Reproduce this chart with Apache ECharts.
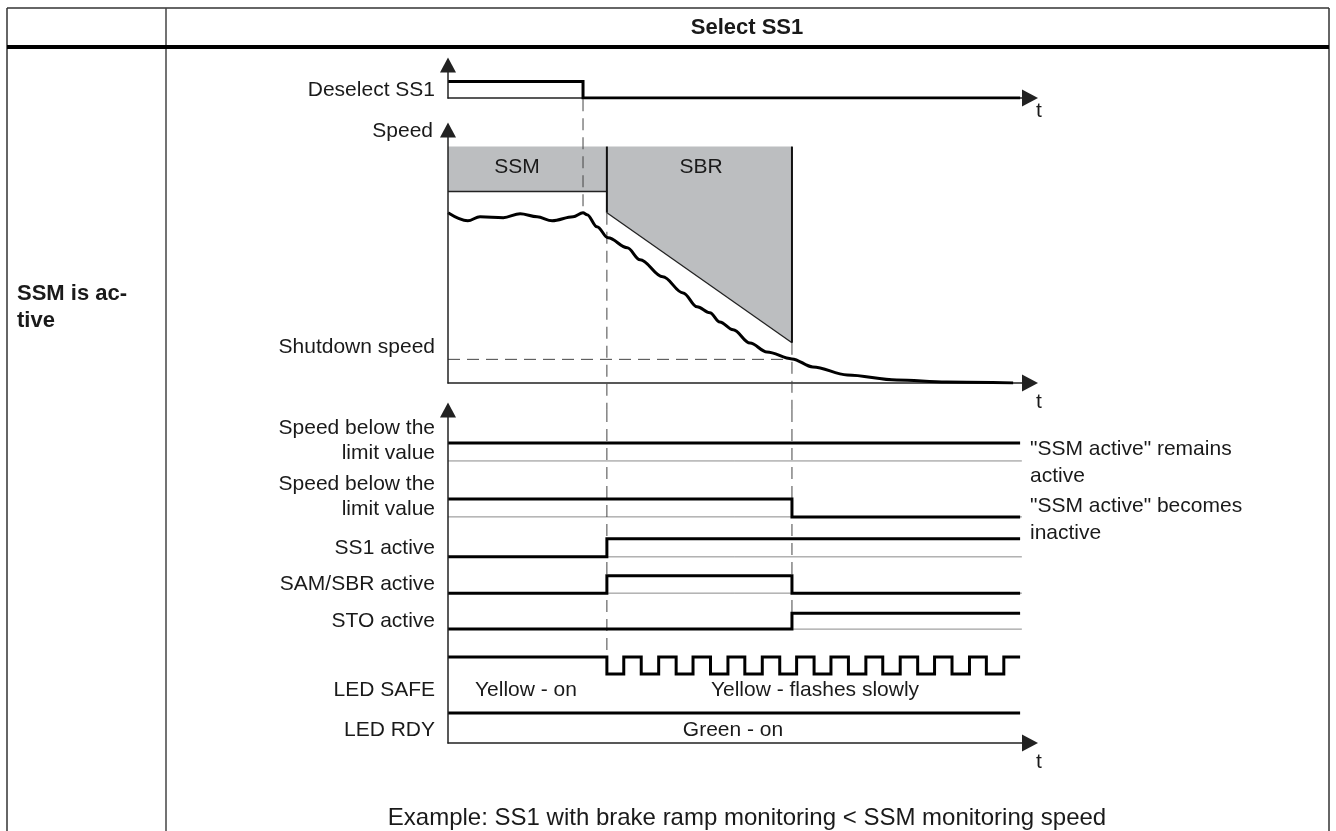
<!DOCTYPE html>
<html>
<head>
<meta charset="utf-8">
<title>Select SS1 - SSM is active</title>
<script src="https://cdn.jsdelivr.net/npm/echarts@6/dist/echarts.min.js"></script>
<style>
    html, body { margin: 0; padding: 0; background: #fff; }
    #chart { width: 1336px; height: 831px; }
</style>
</head>
<body>
<div id="chart"></div>
<script>
// time axis runs 0..100 from the vertical axis to the arrow head
var T_DESELECT = 23.2;
var T_SS1 = 27.3;
var T_STOP = 59.1;
var T_END = 98.3;

// speed curve (speed units: 0 = t axis, 100 = top of SSM/SBR area)
var speedT = [0, 3.4, 5.5, 9.5, 12.4, 15.3, 17.9, 21.5, 23.2, 23.9, 25.6, 27.5, 30.8, 33.0, 36.9, 40.4, 42.8, 45.0, 46.7, 49.0, 51.9, 54.8, 59.1, 62.7, 68.6, 77.1, 85.7, 97.1];
var speedV = [72.0, 68.6, 70.3, 69.9, 71.6, 70.3, 68.6, 70.3, 72.0, 71.2, 66.1, 61.4, 57.2, 52.1, 44.9, 38.1, 32.2, 29.7, 25.8, 22.5, 16.9, 13.1, 10.2, 6.8, 3.4, 1.3, 0.4, 0];

// monitoring limits
var limitTop = 100;
var ssmLimit = 81;
var sbrRamp = [72, 17];      // brake ramp at T_SS1 and at T_STOP
var shutdownSpeed = 10;

// LED SAFE flashing: toggle times
var ledSafeEdges = [27.3, 30.2, 33.2, 36.2, 39.2, 42.1, 45.1, 48.1, 51.0, 54.0, 57.0, 59.9, 62.9, 65.8, 68.8, 71.8, 74.7, 77.7, 80.7, 83.6, 86.6, 89.6, 92.5, 95.5];

// signals: start level and the times where they toggle
var sigDeselect = { init: 1, edges: [T_DESELECT] };
var sigRemains = { init: 1, edges: [] };
var sigBecomes = { init: 1, edges: [T_STOP] };
var sigSS1 = { init: 0, edges: [T_SS1] };
var sigSAM = { init: 0, edges: [T_SS1, T_STOP] };
var sigSTO = { init: 0, edges: [T_STOP] };
var sigSafe = { init: 1, edges: ledSafeEdges };
var sigRdy = { init: 1, edges: [] };

// lanes of the signal block (frame units 0..100, low / high level)
var lanes = {
    remains: [84.7, 90.1],
    becomes: [67.9, 73.3],
    ss1: [55.9, 61.3],
    sam: [45.0, 50.2],
    sto: [34.2, 39.0],
    safe: [20.7, 25.8],
    rdy: [0, 9.0]
};

function steps(sig, lo, hi) {
    var v = sig.init;
    var pts = [[0, v ? hi : lo]];
    sig.edges.forEach(function (t) {
        pts.push([t, v ? hi : lo]);
        v = 1 - v;
        pts.push([t, v ? hi : lo]);
    });
    pts.push([T_END, v ? hi : lo]);
    return pts;
}

var axisLineStyle = { color: '#222', width: 1.5 };
function xAx(gi) {
    return {
        type: 'value', gridIndex: gi, min: 0, max: 100,
        axisLine: { show: true, onZero: false, symbol: ['none', 'triangle'], symbolSize: [17, 16], lineStyle: axisLineStyle },
        axisTick: { show: false }, axisLabel: { show: false }, splitLine: { show: false }
    };
}
function yAx(gi, max) {
    return {
        type: 'value', gridIndex: gi, min: 0, max: max, z: 5,
        axisLine: { show: true, onZero: false, symbol: ['none', 'triangle'], symbolSize: [16, 15], lineStyle: axisLineStyle },
        axisTick: { show: false }, axisLabel: { show: false }, splitLine: { show: false }
    };
}

function thick(gi, data) {
    return {
        type: 'line', xAxisIndex: gi, yAxisIndex: gi, data: data, symbol: 'none', silent: true,
        lineStyle: { color: '#000', width: 3, join: 'miter', cap: 'butt' }, z: 4
    };
}
function thin(gi, data, color, width, dashed) {
    return {
        type: 'line', xAxisIndex: gi, yAxisIndex: gi, data: data, symbol: 'none', silent: true, clip: false,
        lineStyle: { color: color, width: width, type: dashed ? [12, 7] : 'solid' }, z: 3
    };
}

var bands = [
    [[0, ssmLimit], [T_SS1, ssmLimit], [T_SS1, limitTop], [0, limitTop]],
    [[T_SS1, sbrRamp[0]], [T_STOP, sbrRamp[1]], [T_STOP, limitTop], [T_SS1, limitTop]]
];

var series = [];
// deselect SS1
series.push(thick(0, steps(sigDeselect, 0, 1)));

// speed
series.push({
    type: 'custom', xAxisIndex: 1, yAxisIndex: 1, silent: true, z: 1,
    data: [[0], [1]],
    renderItem: function (params, api) {
        var pts = bands[params.dataIndex].map(function (p) { return api.coord(p); });
        return { type: 'polygon', shape: { points: pts }, style: { fill: '#bcbec0' } };
    }
});
series.push(thin(1, [[0, ssmLimit], [T_SS1, ssmLimit]], '#222', 1.5));
series.push(thin(1, [[T_SS1, limitTop], [T_SS1, sbrRamp[0]]], '#111', 2));
series.push(thin(1, [[T_SS1, sbrRamp[0]], [T_STOP, sbrRamp[1]]], '#222', 1.3));
series.push(thin(1, [[T_STOP, limitTop], [T_STOP, sbrRamp[1]]], '#111', 2));
series.push(thin(1, [[0, shutdownSpeed], [T_STOP, shutdownSpeed]], '#444', 1, true));
series.push(thin(1, [[T_DESELECT, 120], [T_DESELECT, 72]], '#444', 1, true));
series.push(thin(1, [[T_SS1, sbrRamp[0]], [T_SS1, -11.4]], '#444', 1, true));
series.push(thin(1, [[T_STOP, sbrRamp[1]], [T_STOP, -11.4]], '#444', 1, true));
series.push({
    type: 'line', xAxisIndex: 1, yAxisIndex: 1, silent: true, symbol: 'none', z: 4,
    smooth: 0.35, smoothMonotone: 'x',
    data: speedT.map(function (t, i) { return [t, speedV[i]]; }),
    lineStyle: { color: '#000', width: 3 }
});

// signal block
['remains', 'becomes', 'ss1', 'sam', 'sto'].forEach(function (k) {
    series.push(thin(2, [[0, lanes[k][0]], [98.6, lanes[k][0]]], '#8a8a8a', 1));
});
series.push(thin(2, [[T_SS1, 100], [T_SS1, lanes.safe[1]]], '#444', 1, true));
series.push(thin(2, [[T_STOP, 100], [T_STOP, lanes.sto[1]]], '#444', 1, true));
series.push(thick(2, steps(sigRemains, lanes.remains[0], lanes.remains[1])));
series.push(thick(2, steps(sigBecomes, lanes.becomes[0], lanes.becomes[1])));
series.push(thick(2, steps(sigSS1, lanes.ss1[0], lanes.ss1[1])));
series.push(thick(2, steps(sigSAM, lanes.sam[0], lanes.sam[1])));
series.push(thick(2, steps(sigSTO, lanes.sto[0], lanes.sto[1])));
series.push(thick(2, steps(sigSafe, lanes.safe[0], lanes.safe[1])));
series.push(thick(2, steps(sigRdy, lanes.rdy[0], lanes.rdy[1])));

var FONT = '21px "Liberation Sans", Arial, sans-serif';
var BOLD = 'bold 22px "Liberation Sans", Arial, sans-serif';
function txt(s, x, y, align, font) {
    return {
        type: 'text', x: x, y: y, silent: true, z: 10,
        style: { text: s, fill: '#1a1a1a', font: font || FONT, align: align || 'right', textAlign: align || 'right', verticalAlign: 'middle', textVerticalAlign: 'middle' }
    };
}
function rule(x1, y1, x2, y2, w, c) {
    return { type: 'line', silent: true, z: 10, shape: { x1: x1, y1: y1, x2: x2, y2: y2 }, style: { stroke: c || '#333', lineWidth: w } };
}

var graphics = [
    rule(7, 8, 1329, 8, 1.5),
    rule(7, 8, 7, 831, 1.5),
    rule(1329, 8, 1329, 831, 1.5),
    rule(166, 8, 166, 831, 1.5, '#444'),
    rule(7, 47, 1329, 47, 4, '#000'),
    txt('Select SS1', 747, 28, 'center', BOLD),
    txt('SSM is ac-', 17, 294, 'left', BOLD),
    txt('tive', 17, 321, 'left', BOLD),

    txt('Deselect SS1', 435, 90),
    txt('Speed', 433, 131),
    txt('Shutdown speed', 435, 347),
    txt('Speed below the', 435, 428),
    txt('limit value', 435, 453),
    txt('Speed below the', 435, 484),
    txt('limit value', 435, 509),
    txt('SS1 active', 435, 548),
    txt('SAM/SBR active', 435, 584),
    txt('STO active', 435, 621),
    txt('LED SAFE', 435, 690),
    txt('LED RDY', 435, 730),

    txt('SSM', 517, 167, 'center'),
    txt('SBR', 701, 167, 'center'),
    txt('Yellow - on', 526, 690, 'center'),
    txt('Yellow - flashes slowly', 815, 690, 'center'),
    txt('Green - on', 733, 730, 'center'),

    txt('"SSM active" remains', 1030, 449, 'left'),
    txt('active', 1030, 476, 'left'),
    txt('"SSM active" becomes', 1030, 506, 'left'),
    txt('inactive', 1030, 533, 'left'),

    txt('t', 1039, 111, 'center'),
    txt('t', 1039, 402, 'center'),
    txt('t', 1039, 762, 'center'),

    txt('Example: SS1 with brake ramp monitoring < SSM monitoring speed', 747, 818, 'center', '24px "Liberation Sans", Arial, sans-serif')
];

var chart = echarts.init(document.getElementById('chart'));
chart.setOption({
    animation: false,
    backgroundColor: '#fff',
    grid: [
        { left: 448, width: 582, top: 65, height: 33 },
        { left: 448, width: 582, top: 130, height: 253 },
        { left: 448, width: 582, top: 410, height: 333 }
    ],
    xAxis: [xAx(0), xAx(1), xAx(2)],
    yAxis: [yAx(0, 2), yAx(1, 107), yAx(2, 100)],
    series: series,
    graphic: graphics
});
</script>
</body>
</html>
